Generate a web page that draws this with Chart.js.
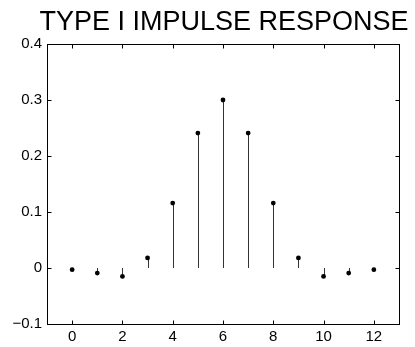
<!DOCTYPE html>
<html>
<head>
<meta charset="utf-8">
<script src="https://cdn.jsdelivr.net/npm/chart.js@4/dist/chart.umd.min.js"></script>
<style>
  html, body { margin: 0; padding: 0; background: #fff; }
  #wrap { width: 415px; height: 347px; }
</style>
</head>
<body>
<div id="wrap"><canvas id="stem"></canvas></div>
<script>
// impulse response h[n], n = 0..12
const sampleIndex = [0, 1, 2, 3, 4, 5, 6, 7, 8, 9, 10, 11, 12];
const impulse = [-0.003, -0.009, -0.015, 0.018, 0.116, 0.241, 0.3, 0.241, 0.116, 0.018, -0.015, -0.009, -0.003];
const xTicks = [0, 2, 4, 6, 8, 10, 12];
const yTicks = [-0.1, 0, 0.1, 0.2, 0.3, 0.4];
const titleText = 'TYPE I IMPULSE RESPONSE';

const fontFamily = "'Liberation Sans', Arial, Helvetica, sans-serif";

// stems from zero to each sample, the box with inward ticks, and the title over the plot area
const stemPlugin = {
  id: 'stems',
  beforeDatasetsDraw(chart) {
    const { ctx, scales: { x, y } } = chart;
    const y0 = y.getPixelForValue(0);
    ctx.save();
    ctx.strokeStyle = '#333';
    ctx.lineWidth = 1;
    sampleIndex.forEach((n, i) => {
      const px = Math.round(x.getPixelForValue(n)) + 0.5;
      ctx.beginPath();
      ctx.moveTo(px, y0);
      ctx.lineTo(px, y.getPixelForValue(impulse[i]));
      ctx.stroke();
    });
    ctx.restore();
  },
  afterDraw(chart) {
    const { ctx, chartArea: a, scales: { x, y } } = chart;
    const L = Math.round(a.left) + 0.5, R = Math.round(a.right) + 0.5;
    const T = Math.round(a.top) + 0.5, B = Math.round(a.bottom) + 0.5;
    const len = 4;
    ctx.save();
    ctx.strokeStyle = '#000';
    ctx.lineWidth = 1;
    ctx.strokeRect(L, T, R - L, B - T);
    ctx.beginPath();
    xTicks.forEach(v => {
      const px = Math.round(x.getPixelForValue(v)) + 0.5;
      ctx.moveTo(px, B); ctx.lineTo(px, B - len);
      ctx.moveTo(px, T); ctx.lineTo(px, T + len);
    });
    yTicks.forEach(v => {
      const py = Math.round(y.getPixelForValue(v)) + 0.5;
      ctx.moveTo(L, py); ctx.lineTo(L + len, py);
      ctx.moveTo(R, py); ctx.lineTo(R - len, py);
    });
    ctx.stroke();

    ctx.fillStyle = '#000';
    ctx.font = '27px ' + fontFamily;
    ctx.textAlign = 'center';
    ctx.textBaseline = 'alphabetic';
    ctx.fillText(titleText, (a.left + a.right) / 2 + 1, 30);
    ctx.restore();
  }
};

new Chart(document.getElementById('stem'), {
  type: 'scatter',
  data: {
    datasets: [{
      data: sampleIndex.map((n, i) => ({ x: n, y: impulse[i] })),
      backgroundColor: '#000',
      borderColor: '#000',
      pointRadius: 2.4,
      pointHoverRadius: 2.4,
      borderWidth: 0
    }]
  },
  options: {
    responsive: true,
    maintainAspectRatio: false,
    animation: false,
    events: [],
    layout: { padding: { left: 0, right: 16, top: 44, bottom: 0 } },
    plugins: {
      legend: { display: false },
      tooltip: { enabled: false },
      title: { display: false }
    },
    scales: {
      x: {
        type: 'linear',
        min: -1,
        max: 13,
        afterBuildTicks: s => { s.ticks = xTicks.map(v => ({ value: v })); },
        afterFit: s => { s.height = 23; },
        grid: { display: false, drawTicks: false },
        border: { display: false },
        ticks: {
          color: '#000',
          padding: 4,
          maxRotation: 0,
          font: { family: fontFamily, size: 15 }
        }
      },
      y: {
        min: -0.1,
        max: 0.4,
        afterBuildTicks: s => { s.ticks = yTicks.map(v => ({ value: v })); },
        afterFit: s => { s.width = 47; },
        grid: { display: false, drawTicks: false },
        border: { display: false },
        ticks: {
          color: '#000',
          padding: 5,
          font: { family: fontFamily, size: 15 },
          callback: v => {
            const r = Math.round(v * 10) / 10;
            if (r === 0) return '0';
            return r < 0 ? '\u2212' + Math.abs(r).toFixed(1) : r.toFixed(1);
          }
        }
      }
    }
  },
  plugins: [stemPlugin]
});
</script>
</body>
</html>
